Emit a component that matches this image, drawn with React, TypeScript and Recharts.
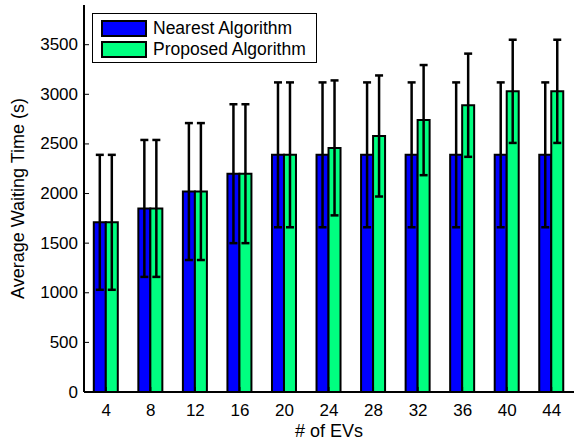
import React from 'react';
import { BarChart, Bar, XAxis, YAxis, ErrorBar } from 'recharts';

const evCounts = [4, 8, 12, 16, 20, 24, 28, 32, 36, 40, 44];
const nearestAvg = [1710, 1850, 2020, 2200, 2390, 2390, 2390, 2390, 2390, 2390, 2390];
const nearestErr = [680, 690, 690, 700, 730, 730, 730, 730, 730, 730, 730];
const proposedAvg = [1710, 1850, 2020, 2200, 2390, 2460, 2580, 2740, 2890, 3030, 3030];
const proposedErr = [680, 690, 690, 700, 730, 680, 610, 555, 520, 520, 520];
const yTicks = [0, 500, 1000, 1500, 2000, 2500, 3000, 3500];

const series = [
  { key: 'nearest', name: 'Nearest Algorithm', color: '#0000ff' },
  { key: 'proposed', name: 'Proposed Algorithm', color: '#00ff80' },
];

const data = evCounts.map((ev, i) => ({
  ev,
  nearest: nearestAvg[i],
  nearestErr: nearestErr[i],
  proposed: proposedAvg[i],
  proposedErr: proposedErr[i],
}));

const FONT = 'Liberation Sans, Arial, Helvetica, sans-serif';
const FS = 17;
const LABEL_FS = 18;
const TICK = 5;
const X_MARGIN = 12;

const LeftTick = (props: any) => {
  const { x, y, payload } = props;
  return (
    <g>
      <text x={x} y={y} textAnchor="end" dominantBaseline="central" fontSize={FS} fontFamily={FONT} fill="#000">
        {payload.value}
      </text>
      <line x1={x + 6} x2={x + 6 + TICK} y1={y} y2={y} stroke="#000" strokeWidth={1} />
    </g>
  );
};

const RightTick = (props: any) => {
  const { x, y } = props;
  return <line x1={x} x2={x - TICK} y1={y} y2={y} stroke="#000" strokeWidth={1} />;
};

const BottomTick = (props: any) => {
  const { x, y, payload } = props;
  return (
    <g>
      <text x={x} y={y} dy="0.71em" textAnchor="middle" fontSize={FS} fontFamily={FONT} fill="#000">
        {payload.value}
      </text>
      <line x1={x} x2={x} y1={y - X_MARGIN} y2={y - X_MARGIN - TICK} stroke="#000" strokeWidth={1} />
    </g>
  );
};

const TopTick = (props: any) => {
  const { x, y } = props;
  return <line x1={x} x2={x} y1={y} y2={y + TICK} stroke="#000" strokeWidth={1} />;
};

const App = () => {
  return (
    <div style={{ position: 'absolute', left: 0, top: 0, width: 581, height: 441, background: '#fff' }}>
      <BarChart
        width={581}
        height={441}
        data={data}
        margin={{ top: 5, right: 7, left: 0, bottom: 0 }}
        barCategoryGap="22%"
        barGap={0}
      >
        <XAxis
          dataKey="ev"
          height={49}
          tickSize={0}
          tickMargin={X_MARGIN}
          tick={<BottomTick />}
          axisLine={{ stroke: '#000', strokeWidth: 2 }}
          interval={0}
          label={({ viewBox }: any) => (
            <text
              x={viewBox.x + viewBox.width / 2}
              y={viewBox.y + 45}
              textAnchor="middle"
              fontSize={LABEL_FS}
              fontFamily={FONT}
              fill="#000"
            >
              # of EVs
            </text>
          )}
        />
        <XAxis
          xAxisId="top"
          dataKey="ev"
          orientation="top"
          height={0}
          tickSize={0}
          tickMargin={0}
          tick={<TopTick />}
          axisLine={{ stroke: '#000', strokeWidth: 2 }}
          interval={0}
        />
        <YAxis
          width={84}
          domain={[0, 3900]}
          ticks={yTicks}
          allowDataOverflow
          tickSize={0}
          tickMargin={6}
          tick={<LeftTick />}
          axisLine={{ stroke: '#000', strokeWidth: 2 }}
          label={({ viewBox }: any) => {
            const cx = viewBox.x + 18;
            const cy = viewBox.y + viewBox.height / 2;
            return (
              <text
                x={cx}
                y={cy}
                transform={`rotate(-90, ${cx}, ${cy})`}
                textAnchor="middle"
                dominantBaseline="central"
                fontSize={LABEL_FS}
                fontFamily={FONT}
                fill="#000"
              >
                Average Waiting Time (s)
              </text>
            );
          }}
        />
        <YAxis
          yAxisId="right"
          orientation="right"
          width={0}
          domain={[0, 3900]}
          ticks={yTicks}
          allowDataOverflow
          tickSize={0}
          tickMargin={0}
          tick={<RightTick />}
          axisLine={{ stroke: '#000', strokeWidth: 2 }}
        />
        {series.map((s) => (
          <Bar
            key={s.key}
            dataKey={s.key}
            name={s.name}
            fill={s.color}
            stroke="#000"
            strokeWidth={2}
            isAnimationActive={false}
          >
            <ErrorBar
              dataKey={`${s.key}Err`}
              direction="y"
              width={4}
              stroke="#000"
              strokeWidth={2.5}
              isAnimationActive={false}
            />
          </Bar>
        ))}
      </BarChart>
      <div
        style={{
          position: 'absolute',
          left: 92,
          top: 13,
          width: 225,
          height: 50,
          boxSizing: 'border-box',
          border: '1px solid #000',
          background: '#fff',
          fontFamily: FONT,
          fontSize: 17.5,
          padding: '4px 0 0 8px',
        }}
      >
        {series.map((s) => (
          <div key={s.key} style={{ display: 'flex', alignItems: 'center', height: 21 }}>
            <div
              style={{
                width: 46,
                height: 17,
                boxSizing: 'border-box',
                border: '2px solid #000',
                background: s.color,
                marginRight: 6,
              }}
            />
            <span style={{ whiteSpace: 'nowrap' }}>{s.name}</span>
          </div>
        ))}
      </div>
    </div>
  );
};

export default App;
